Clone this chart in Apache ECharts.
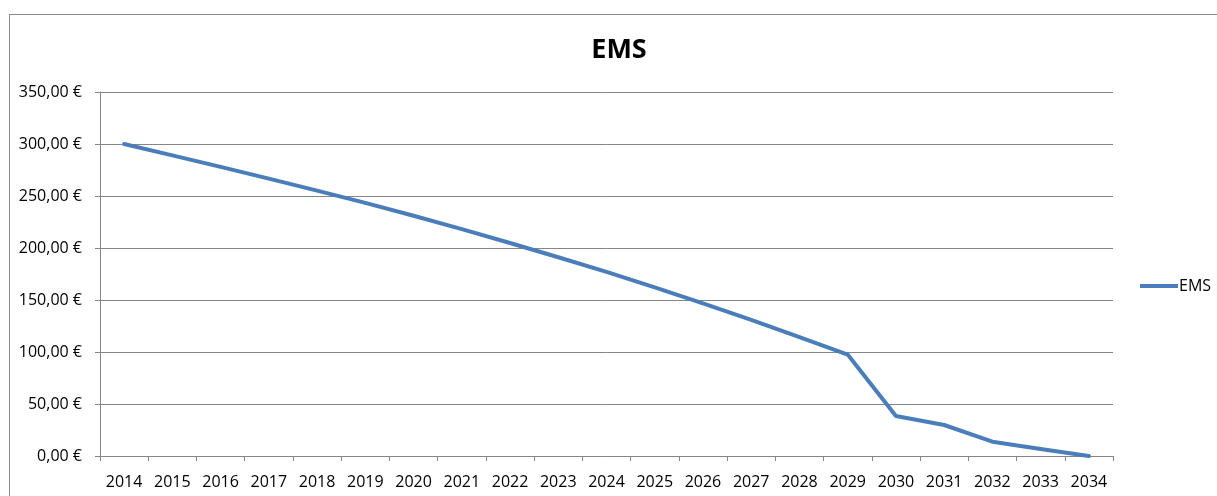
<!DOCTYPE html>
<html>
<head>
<meta charset="utf-8">
<script src="https://cdn.jsdelivr.net/npm/echarts@6/dist/echarts.min.js"></script>
<style>
html,body{margin:0;padding:0;background:#fff;}
#chart{width:1217px;height:496px;}
</style>
</head>
<body>
<div id="chart"></div>
<script>
const years = ['2014','2015','2016','2017','2018','2019','2020','2021','2022','2023','2024','2025','2026','2027','2028','2029','2030','2031','2032','2033','2034'];
const emsValues = [300, 289.1, 278.0, 266.7, 255.2, 243.4, 231.0, 218.1, 204.8, 191.1, 177.0, 162.2, 146.8, 130.8, 114.2, 97.5, 38.5, 29.8, 13.8, 6.8, 0];
const seriesName = 'EMS';
const titleText = 'EMS';

const FONT = 'Open Sans';
const chart = echarts.init(document.getElementById('chart'), null, {renderer: 'canvas'});
chart.setOption({
  animation: false,
  backgroundColor: '#fff',
  title: {
    text: titleText,
    left: 614, top: 32, textAlign: 'center',
    textStyle: {fontFamily: FONT, fontSize: 27, fontWeight: 'bold', color: '#000'}
  },
  legend: {
    data: [seriesName],
    left: 1140, top: 278, padding: 0,
    itemWidth: 38, itemHeight: 4, itemGap: 0,
    icon: 'rect',
    textStyle: {fontFamily: FONT, fontSize: 16, color: '#000', padding: [0,0,0,-4]}
  },
  grid: {left: 100, right: 104, top: 92, bottom: 40, containLabel: false},
  xAxis: {
    type: 'category',
    data: years,
    boundaryGap: true,
    axisLine: {lineStyle: {color: '#868686', width: 1}},
    axisTick: {show: true, length: 5, lineStyle: {color: '#868686'}, alignWithLabel: false},
    axisLabel: {fontFamily: FONT, fontSize: 16, color: '#000', margin: 18, interval: 0}
  },
  yAxis: {
    type: 'value',
    min: 0, max: 350, interval: 50,
    axisLine: {show: true, lineStyle: {color: '#868686', width: 1}},
    axisTick: {show: true, length: 5, lineStyle: {color: '#868686'}},
    splitLine: {lineStyle: {color: '#868686', width: 1}},
    axisLabel: {
      fontFamily: FONT, fontSize: 16, color: '#000', margin: 18,
      formatter: v => v.toFixed(2).replace('.', ',') + ' €'
    }
  },
  series: [{
    name: seriesName,
    type: 'line',
    data: emsValues,
    showSymbol: false,
    symbol: 'none',
    lineStyle: {color: '#4A7EBB', width: 4, cap: 'round', join: 'round'},
    itemStyle: {color: '#4A7EBB'}
  }],
  graphic: [
    {type: 'line', shape: {x1: 9, y1: 14.5, x2: 1217, y2: 14.5}, style: {stroke: '#8c8c8c', lineWidth: 1}},
    {type: 'line', shape: {x1: 9.5, y1: 14, x2: 9.5, y2: 496}, style: {stroke: '#8c8c8c', lineWidth: 1}}
  ]
});
</script>
</body>
</html>
